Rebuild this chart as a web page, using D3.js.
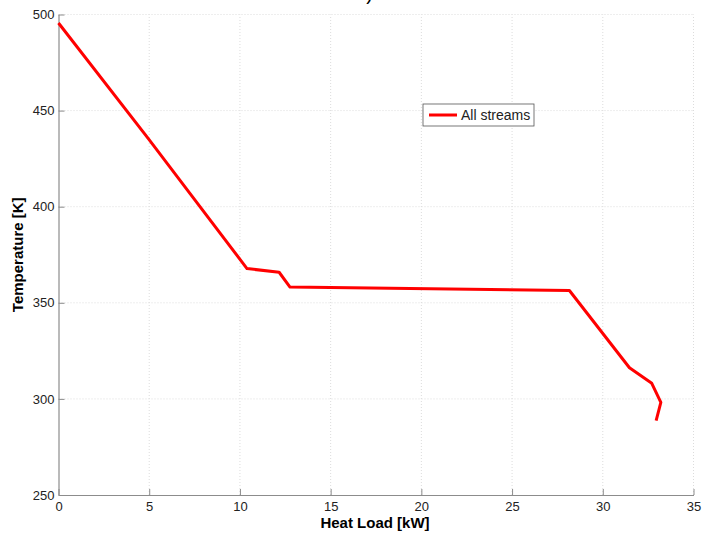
<!DOCTYPE html>
<html>
<head>
<meta charset="utf-8">
<script src="https://cdn.jsdelivr.net/npm/d3@7"></script>
<style>
    body { margin: 0; background: #fff; }
    text { font-family: "Liberation Sans", Arial, sans-serif; }
</style>
</head>
<body>
<script>

// composite curve: heat load [kW] vs temperature [K]
const heatLoad = [0, 4.93, 10.39, 12.16, 12.76, 28.16, 31.47, 32.7, 33.2, 32.94];
const temperature = [495.6, 435.7, 367.8, 365.9, 358.2, 356.4, 316.2, 308.1, 298.2, 288.7];

const xTicks = [0, 5, 10, 15, 20, 25, 30, 35];
const yTicks = [250, 300, 350, 400, 450, 500];
const seriesName = "All streams";

const width = 702;
const height = 538;
const margin = {left: 58.5, right: 8.5, top: 14.5, bottom: 43};

let svg = d3.select("body")
            .append("svg")
            .attr("width", width)
            .attr("height", height);

let xScale = d3.scaleLinear()
               .domain([0, 35])
               .range([margin.left, width - margin.right]);

let yScale = d3.scaleLinear()
               .domain([250, 500])
               .range([height - margin.bottom, margin.top]);

// clipped title remnant at the top
svg.append("text")
   .attr("x", 373)
   .attr("y", 0)
   .attr("text-anchor", "end")
   .style("font-size", "20px")
   .text("b)");

// dotted grid
svg.append("g")
   .selectAll("line")
   .data(xTicks.slice(1))
   .enter().append("line")
   .attr("x1", d => xScale(d))
   .attr("x2", d => xScale(d))
   .attr("y1", yScale(250))
   .attr("y2", yScale(500))
   .attr("stroke", "#dcdcdc")
   .attr("stroke-dasharray", "1,2");

svg.append("g")
   .selectAll("line")
   .data(yTicks.slice(1))
   .enter().append("line")
   .attr("x1", xScale(0))
   .attr("x2", xScale(35))
   .attr("y1", d => yScale(d))
   .attr("y2", d => yScale(d))
   .attr("stroke", "#dcdcdc")
   .attr("stroke-dasharray", "1,2");

// axes, ticks pointing inward
let xAxis = svg.append("g")
               .attr("transform", "translate(0," + yScale(250) + ")")
               .call(d3.axisBottom(xScale).tickValues(xTicks).tickSizeInner(-6).tickSizeOuter(0).tickPadding(7));

let yAxis = svg.append("g")
               .attr("transform", "translate(" + xScale(0) + ",0)")
               .call(d3.axisLeft(yScale).tickValues(yTicks).tickSizeInner(-6).tickSizeOuter(0).tickPadding(4));

[xAxis, yAxis].forEach(function(ax) {
    ax.select(".domain").attr("stroke", "#8c8c8c").attr("stroke-width", 1.2);
    ax.selectAll(".tick line").attr("stroke", "#8c8c8c");
    ax.selectAll(".tick text")
      .attr("fill", "#222")
      .style("font-size", "13px")
      .style("font-family", "Liberation Sans, Arial, sans-serif");
});

// axis labels
svg.append("text")
   .attr("x", 375)
   .attr("y", 528)
   .attr("text-anchor", "middle")
   .style("font-size", "15px")
   .style("font-weight", "bold")
   .text("Heat Load [kW]");

svg.append("text")
   .attr("transform", "translate(23," + yScale(375) + ") rotate(-90)")
   .attr("text-anchor", "middle")
   .style("font-size", "15px")
   .style("font-weight", "bold")
   .text("Temperature [K]");

// curve
let points = heatLoad.map((d, i) => [d, temperature[i]]);

let line = d3.line()
             .x(d => xScale(d[0]))
             .y(d => yScale(d[1]));

svg.append("path")
   .datum(points)
   .attr("d", line)
   .attr("fill", "none")
   .attr("stroke", "#ff0000")
   .attr("stroke-width", 3)
   .attr("stroke-linejoin", "round");

// legend
let legend = svg.append("g")
                .attr("transform", "translate(423,104)");

legend.append("rect")
      .attr("width", 111)
      .attr("height", 22)
      .attr("fill", "#fff")
      .attr("stroke", "#555")
      .attr("stroke-width", 0.8);

legend.append("line")
      .attr("x1", 6)
      .attr("x2", 34)
      .attr("y1", 11)
      .attr("y2", 11)
      .attr("stroke", "#ff0000")
      .attr("stroke-width", 3);

legend.append("text")
      .attr("x", 38)
      .attr("y", 16)
      .style("font-size", "14px")
      .attr("fill", "#222")
      .text(seriesName);

</script>
</body>
</html>
